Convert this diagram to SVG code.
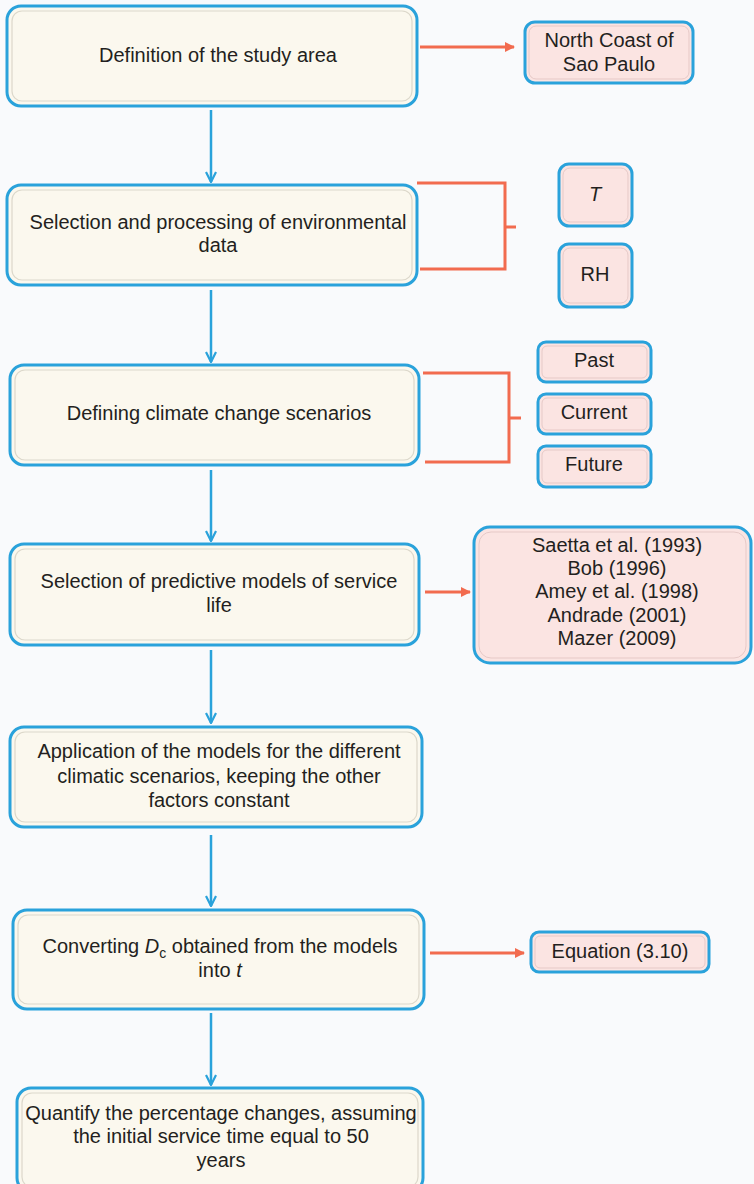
<svg xmlns="http://www.w3.org/2000/svg" width="754" height="1184" viewBox="0 0 754 1184">
<defs>
<style>
.main{fill:#fbf8ee;stroke:#2aa2db;stroke-width:3}
.inner{fill:none;stroke:#dcd8cb;stroke-width:1.2}
.pink{fill:#fbe4e2;stroke:#2aa2db;stroke-width:3}
.pinner{fill:none;stroke:#e6c9c7;stroke-width:1}
text{font-family:"Liberation Sans",Arial,sans-serif;font-size:20px;fill:#231f20;text-anchor:middle}
.blue{stroke:#2aa2db;stroke-width:2.5;fill:none}
.red{stroke:#f26b4f;stroke-width:3;fill:none}
</style>
<marker id="ab" viewBox="0 0 12 12" refX="11" refY="6" markerWidth="12" markerHeight="12" markerUnits="userSpaceOnUse" orient="auto">
<path d="M1,1 L11,6 L1,11" fill="none" stroke="#2aa2db" stroke-width="2.2"/>
</marker>
<marker id="ar" viewBox="0 0 10 10" refX="9" refY="5" markerWidth="10" markerHeight="10" markerUnits="userSpaceOnUse" orient="auto">
<path d="M0,0 L10,5 L0,10 Z" fill="#f26b4f"/>
</marker>
</defs>
<rect x="0" y="0" width="754" height="1184" fill="#f9fafc"/>

<g id="connectors">
<line class="blue" x1="211" y1="110" x2="211" y2="182" marker-end="url(#ab)"/>
<line class="blue" x1="211" y1="290" x2="211" y2="362" marker-end="url(#ab)"/>
<line class="blue" x1="211" y1="470" x2="211" y2="541" marker-end="url(#ab)"/>
<line class="blue" x1="211" y1="650" x2="211" y2="723" marker-end="url(#ab)"/>
<line class="blue" x1="211" y1="835" x2="211" y2="906" marker-end="url(#ab)"/>
<line class="blue" x1="211" y1="1013" x2="211" y2="1085" marker-end="url(#ab)"/>
<line class="red" x1="420" y1="47" x2="514" y2="47" marker-end="url(#ar)"/>
<line class="red" x1="425" y1="592" x2="470" y2="592" stroke-width="4" marker-end="url(#ar)"/>
<line class="red" x1="430" y1="953" x2="524" y2="953" marker-end="url(#ar)"/>
<path class="red" d="M417,183 H505 V269 H420 M505,227 H516"/>
<path class="red" d="M423,373 H509 V462 H425 M509,418 H521"/>
</g>

<g id="n1">
<rect class="main" x="7" y="6" width="410" height="100" rx="14"/>
<rect class="inner" x="12" y="11" width="400" height="90" rx="10"/>
<text x="218" y="62">Definition of the study area</text>
</g>
<g id="n1a">
<rect class="pink" x="525" y="22" width="168" height="61" rx="10"/>
<rect class="pinner" x="529" y="26" width="160" height="53" rx="7"/>
<text x="609" y="47">North Coast of</text>
<text x="609" y="71">Sao Paulo</text>
</g>

<g id="n2">
<rect class="main" x="7" y="185" width="410" height="100" rx="14"/>
<rect class="inner" x="12" y="190" width="400" height="90" rx="10"/>
<text x="218" y="229">Selection and processing of environmental</text>
<text x="218" y="252">data</text>
</g>
<g id="n2a">
<rect class="pink" x="559" y="164" width="73" height="62" rx="10"/>
<rect class="pinner" x="563" y="168" width="65" height="54" rx="7"/>
<text x="595" y="201" font-style="italic">T</text>
</g>
<g id="n2b">
<rect class="pink" x="559" y="244" width="73" height="63" rx="10"/>
<rect class="pinner" x="563" y="248" width="65" height="55" rx="7"/>
<text x="595" y="281">RH</text>
</g>

<g id="n3">
<rect class="main" x="10" y="365" width="409" height="100" rx="14"/>
<rect class="inner" x="15" y="370" width="399" height="90" rx="10"/>
<text x="219" y="420">Defining climate change scenarios</text>
</g>
<g id="n3a">
<rect class="pink" x="538" y="342" width="113" height="40" rx="8"/>
<rect class="pinner" x="542" y="346" width="105" height="32" rx="5"/>
<text x="594" y="367">Past</text>
</g>
<g id="n3b">
<rect class="pink" x="538" y="394" width="113" height="40" rx="8"/>
<rect class="pinner" x="542" y="398" width="105" height="32" rx="5"/>
<text x="594" y="419">Current</text>
</g>
<g id="n3c">
<rect class="pink" x="538" y="446" width="113" height="41" rx="8"/>
<rect class="pinner" x="542" y="450" width="105" height="33" rx="5"/>
<text x="594" y="471">Future</text>
</g>

<g id="n4">
<rect class="main" x="10" y="544" width="409" height="101" rx="14"/>
<rect class="inner" x="15" y="549" width="399" height="91" rx="10"/>
<text x="219" y="588">Selection of predictive models of service</text>
<text x="219" y="612">life</text>
</g>
<g id="n4a">
<rect class="pink" x="474" y="527" width="277" height="136" rx="16"/>
<rect class="pinner" x="479" y="532" width="267" height="126" rx="12"/>
<text x="617" y="552">Saetta et al. (1993)</text>
<text x="617" y="575">Bob (1996)</text>
<text x="617" y="598">Amey et al. (1998)</text>
<text x="617" y="622">Andrade (2001)</text>
<text x="617" y="645">Mazer (2009)</text>
</g>

<g id="n5">
<rect class="main" x="10" y="727" width="412" height="100" rx="14"/>
<rect class="inner" x="15" y="732" width="402" height="90" rx="10"/>
<text x="219" y="758">Application of the models for the different</text>
<text x="219" y="783">climatic scenarios, keeping the other</text>
<text x="219" y="807">factors constant</text>
</g>

<g id="n6">
<rect class="main" x="13" y="910" width="411" height="99" rx="14"/>
<rect class="inner" x="18" y="915" width="401" height="89" rx="10"/>
<text x="220" y="953">Converting <tspan font-style="italic">D</tspan><tspan font-size="14" dy="5">c</tspan><tspan dy="-5"> obtained from the models</tspan></text>
<text x="220" y="977">into <tspan font-style="italic">t</tspan></text>
</g>
<g id="n6a">
<rect class="pink" x="531" y="932" width="178" height="40" rx="8"/>
<rect class="pinner" x="535" y="936" width="170" height="32" rx="5"/>
<text x="620" y="958">Equation (3.10)</text>
</g>

<g id="n7">
<rect class="main" x="17" y="1088" width="406" height="104" rx="14"/>
<rect class="inner" x="22" y="1093" width="396" height="94" rx="10"/>
<text x="221" y="1120">Quantify the percentage changes, assuming</text>
<text x="221" y="1143">the initial service time equal to 50</text>
<text x="221" y="1167">years</text>
</g>
</svg>
